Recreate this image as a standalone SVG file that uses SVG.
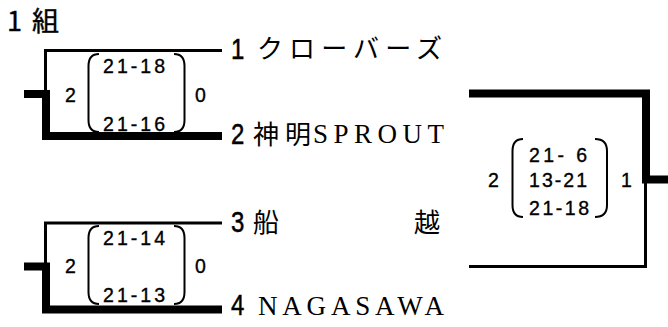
<svg xmlns="http://www.w3.org/2000/svg" width="668" height="327" viewBox="0 0 668 327">
<style>
.thin{fill:none;stroke:#000;stroke-width:3;stroke-linejoin:miter;stroke-linecap:butt}
.thick{fill:none;stroke:#000;stroke-width:8;stroke-linejoin:miter;stroke-linecap:butt}
.paren{fill:none;stroke:#000;stroke-width:2}
.num{font-family:"Liberation Sans",Arial,sans-serif;font-size:30px;fill:#000;stroke:#000;stroke-width:0.5}
.sc{font-family:"Liberation Sans",Arial,sans-serif;font-size:19.5px;fill:#000;stroke:#000;stroke-width:0.35}
.jp{font-family:"Noto Sans CJK JP",sans-serif;font-size:26px;fill:#000}
.lat{font-family:"Liberation Serif","Times New Roman",serif;font-size:27px;fill:#000}
.title{font-family:"Noto Sans CJK JP",sans-serif;font-size:27px;fill:#000;stroke:#000;stroke-width:0.4}
</style>
<g id="title"><text class="title" x="7" y="31">1 <tspan x="32">組</tspan></text></g>
<g id="connectors">
<path class="thin" d="M45.5,92 V50.5 H222"/>
<path class="thick" d="M24,94 H46 V136 H222"/>
<path class="thin" d="M45.5,264 V223 H222"/>
<path class="thick" d="M24,266.5 H46 V309.5 H222"/>
<path class="thick" d="M469,93.5 H646 V179.5 H668"/>
<path class="thin" d="M469,266.5 H645.5 V180"/>
</g>
<g id="team1"><text class="num" transform="translate(231,59) scale(0.8,1)">1</text><text class="jp" x="257" y="58" textLength="185" lengthAdjust="spacing">クローバーズ</text></g>
<g id="team2"><text class="num" transform="translate(231,144) scale(0.8,1)">2</text><text class="jp" x="253" y="144" textLength="58" lengthAdjust="spacing">神明</text><text class="lat" x="313" y="143" textLength="131" lengthAdjust="spacing">SPROUT</text></g>
<g id="team3"><text class="num" transform="translate(231,232) scale(0.8,1)">3</text><text class="jp" y="232"><tspan x="253">船</tspan><tspan x="414">越</tspan></text></g>
<g id="team4"><text class="num" transform="translate(231,315) scale(0.8,1)">4</text><text class="lat" x="258" y="315" textLength="186" lengthAdjust="spacing">NAGASAWA</text></g>
<g id="match1">
<text class="sc" x="65" y="101.5">2</text>
<path class="paren" d="M99,54 Q88.5,54 88.5,66 V120 Q88.5,132 99,132"/>
<text class="sc" x="103" y="73" textLength="62" lengthAdjust="spacing">21-18</text>
<text class="sc" x="103" y="131" textLength="62" lengthAdjust="spacing">21-16</text>
<path class="paren" d="M174,54 Q184.5,54 184.5,66 V120 Q184.5,132 174,132"/>
<text class="sc" x="195" y="101.5">0</text>
</g>
<g id="match2">
<text class="sc" x="65" y="273">2</text>
<path class="paren" d="M99,226 Q88.5,226 88.5,238 V292 Q88.5,304 99,304"/>
<text class="sc" x="103" y="245" textLength="62" lengthAdjust="spacing">21-14</text>
<text class="sc" x="103" y="302" textLength="62" lengthAdjust="spacing">21-13</text>
<path class="paren" d="M174,226 Q184.5,226 184.5,238 V292 Q184.5,304 174,304"/>
<text class="sc" x="195" y="273">0</text>
</g>
<g id="final">
<text class="sc" x="488" y="186.5">2</text>
<path class="paren" d="M523,139 Q512.5,139 512.5,151 V205 Q512.5,217 523,217"/>
<text class="sc" x="529" y="161.5" textLength="58" lengthAdjust="spacing">21- 6</text>
<text class="sc" x="529" y="186.5" textLength="58" lengthAdjust="spacing">13-21</text>
<text class="sc" x="529" y="215" textLength="60" lengthAdjust="spacing">21-18</text>
<path class="paren" d="M595,139 Q607,139 607,151 V205 Q607,217 595,217"/>
<text class="sc" x="621" y="186.5">1</text>
</g>
</svg>
